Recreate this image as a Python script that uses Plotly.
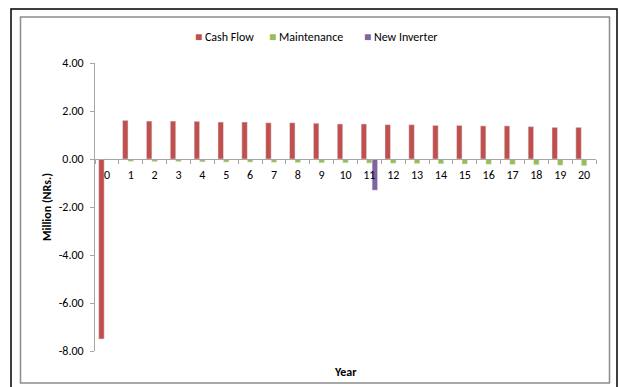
import plotly.graph_objects as go

years = [str(i) for i in range(21)]
cash_flow = [-7.50, 1.61, 1.58, 1.58, 1.57, 1.54, 1.54, 1.51, 1.51, 1.49, 1.46,
             1.46, 1.43, 1.43, 1.40, 1.40, 1.38, 1.38, 1.35, 1.32, 1.32]
maintenance = [0.00, -0.10, -0.11, -0.11, -0.12, -0.13, -0.13, -0.14, -0.15, -0.16, -0.16,
               -0.17, -0.18, -0.19, -0.20, -0.21, -0.22, -0.23, -0.24, -0.26, -0.28]
new_inverter = [None] * 11 + [-1.30] + [None] * 9
series_names = ["Cash Flow", "Maintenance", "New Inverter"]
series_colors = ["#C0504D", "#9BBB59", "#8064A2"]
y_tickvals = [4, 2, 0, -2, -4, -6, -8]
y_ticktext = ["4.00", "2.00", "0.00", "-2.00", "-4.00", "-6.00", "-8.00"]

W, H = 619, 387
L, R, T, B = 95, 596, 63, 351

def px(x):
    return (x - L) / (R - L)

def py(y):
    return (B - y) / (B - T)

FONT = "Carlito, Lato, 'Liberation Sans', sans-serif"

fig = go.Figure()
for name, vals, col in zip(series_names, [cash_flow, maintenance, new_inverter], series_colors):
    fig.add_trace(go.Bar(x=years, y=vals, name=name, marker_color=col))

legend_ann = [
    dict(text=f'<span style="color:{col}">■</span> {name}', xref="paper", yref="paper",
         x=px(lx), y=py(37), xanchor="left", yanchor="middle", showarrow=False,
         font=dict(size=12))
    for name, col, lx in zip(series_names, series_colors, [193, 267, 362])
]

fig.update_layout(
    width=W, height=H,
    margin=dict(l=L, r=W - R, t=T, b=H - B, pad=0),
    paper_bgcolor="white", plot_bgcolor="white",
    font=dict(family=FONT, size=12, color="#000"),
    barmode="group", bargap=0.31, bargroupgap=0,
    showlegend=False,
    xaxis=dict(type="category", anchor="free", position=(0 - (-8)) / 12,
               showline=True, linecolor="#A6A6A6", linewidth=1,
               ticks="outside", tickson="boundaries", ticklen=4, tickcolor="#A6A6A6",
               showgrid=False, zeroline=False, tickfont=dict(size=12), ticklabelstandoff=5),
    yaxis=dict(range=[-8, 4], tickvals=y_tickvals, ticktext=y_ticktext,
               showline=True, linecolor="#A6A6A6", linewidth=1,
               ticks="outside", ticklen=4, tickcolor="#A6A6A6",
               showgrid=False, zeroline=False, tickfont=dict(size=12), ticklabelstandoff=4),
    shapes=[
        dict(type="rect", xref="paper", yref="paper",
             x0=px(11), x1=px(617), y0=py(392), y1=py(9),
             line=dict(color="#000", width=1.5), layer="below"),
        dict(type="rect", xref="paper", yref="paper",
             x0=px(20.5), x1=px(609.5), y0=py(383), y1=py(17),
             line=dict(color="#8C8C8C", width=1.5), layer="below"),
    ],
    annotations=legend_ann + [
        dict(text="<b>Million (NRs.)</b>", xref="paper", yref="paper", x=px(47), y=0.5,
             textangle=-90, showarrow=False, font=dict(size=12), xanchor="center", yanchor="middle"),
        dict(text="<b>Year</b>", xref="paper", yref="paper", x=px(345), y=py(372),
             showarrow=False, font=dict(size=12), xanchor="center", yanchor="middle"),
    ],
)

fig.write_html("out.html", config={"displayModeBar": False},
               post_script="document.body.style.margin='0';")
